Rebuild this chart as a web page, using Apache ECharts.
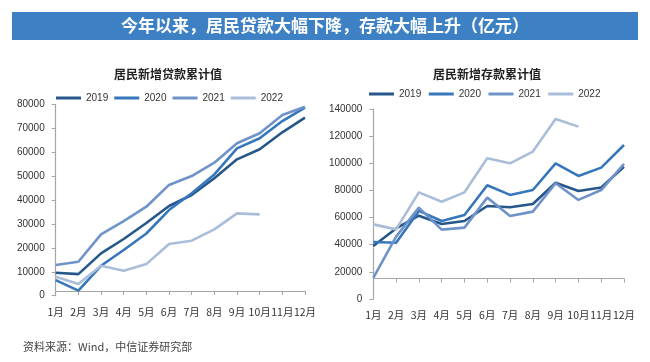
<!DOCTYPE html>
<html>
<head>
<meta charset="utf-8">
<script src="https://cdn.jsdelivr.net/npm/echarts@6/dist/echarts.min.js"></script>
<style>html,body{margin:0;padding:0;background:#fff;}#c{width:650px;height:362px;}</style>
</head>
<body>
<div id="c"></div>
<script>
const months = ['1月','2月','3月','4月','5月','6月','7月','8月','9月','10月','11月','12月'];
const years = ['2019','2020','2021','2022'];
const loan2019 = [9600, 9000, 17700, 23700, 30400, 37500, 42100, 49100, 57000, 61200, 68300, 74400];
const loan2020 = [6500, 2100, 12500, 19100, 26000, 35800, 42800, 50700, 61600, 65800, 73000, 78600];
const loan2021 = [12800, 14200, 25600, 31200, 37200, 46300, 50000, 55600, 63700, 67900, 75500, 79000];
const loan2022 = [7900, 4900, 12500, 10400, 13200, 21600, 23000, 27700, 34400, 34000];
const dep2019 = [39000, 52000, 61400, 55300, 57500, 68500, 67600, 70000, 85700, 79600, 82100, 97500];
const dep2020 = [42000, 41500, 64900, 57500, 61900, 83800, 76700, 80300, 100000, 90700, 96800, 113500];
const dep2021 = [15500, 46000, 67300, 51100, 52600, 74700, 61200, 64400, 85300, 73000, 80300, 99500];
const dep2022 = [55000, 51300, 78600, 71700, 78600, 103700, 100000, 108600, 132700, 127000];

const colors = ['#27578a', '#3677bb', '#6f93c9', '#aabdd9'];
const numFont = 'Liberation Sans, Arial, Noto Sans CJK SC, sans-serif';
const cjkFont = 'Noto Sans CJK SC, sans-serif';
const axisGray = '#a6a6a6';

function mkSeries(name, data, xi, yi, ci) {
  return { name: name, type: 'line', data: data, xAxisIndex: xi, yAxisIndex: yi,
    symbol: 'none', smooth: false, lineStyle: { width: 2.6, color: colors[ci] },
    itemStyle: { color: colors[ci] }, emphasis: { disabled: true }, animation: false };
}

function catAxis(gi, onZeroIdx, margin) {
  return { type: 'category', gridIndex: gi, data: months, boundaryGap: false,
    axisLine: { show: true, onZero: true, onZeroAxisIndex: onZeroIdx, lineStyle: { color: axisGray, width: 1.2 } },
    axisTick: { show: true, length: 4, lineStyle: { color: axisGray } },
    axisLabel: { margin: margin, fontSize: 10.5, color: '#333', fontFamily: cjkFont, interval: 0 },
    splitLine: { show: false } };
}
function valAxis(gi, max, interval) {
  return { type: 'value', gridIndex: gi, min: 0, max: max, interval: interval,
    axisLine: { show: true, onZero: false, lineStyle: { color: axisGray, width: 1.2 } },
    axisTick: { show: true, length: 4, lineStyle: { color: axisGray } },
    axisLabel: { margin: 11, fontSize: 10, color: '#333', fontFamily: numFont, formatter: function (v) { return String(v); } },
    splitLine: { show: false } };
}
function hiddenAxis(gi, min, max) {
  return { type: 'value', gridIndex: gi, min: min, max: max, show: false, splitLine: { show: false } };
}
function legend(left, top, gap) {
  return { left: left, top: top, itemWidth: 25, itemHeight: 3, itemGap: gap, icon: 'rect',
    data: years, textStyle: { fontSize: 10, color: '#333', fontFamily: numFont }, selectedMode: false };
}

const chart = echarts.init(document.getElementById('c'));
chart.setOption({
  animation: false,
  backgroundColor: '#fff',
  graphic: [
    { type: 'rect', shape: { x: 12, y: 12, width: 626, height: 28 }, style: { fill: '#3d80c4' } },
    { type: 'text', x: 325, y: 26, style: { text: '今年以来，居民贷款大幅下降，存款大幅上升（亿元）', fill: '#fff',
      font: 'bold 17px Noto Sans CJK SC, sans-serif', align: 'center', verticalAlign: 'middle' } },
    { type: 'text', x: 23, y: 347, style: { text: '资料来源：Wind，中信证券研究部', fill: '#444',
      font: '11px Noto Sans CJK SC, sans-serif', align: 'left', verticalAlign: 'middle' } }
  ],
  title: [
    { text: '居民新增贷款累计值', left: 163, top: 63, textAlign: 'center',
      textStyle: { fontSize: 12, fontWeight: 'bold', color: '#222', fontFamily: cjkFont } },
    { text: '居民新增存款累计值', left: 482, top: 63, textAlign: 'center',
      textStyle: { fontSize: 12, fontWeight: 'bold', color: '#222', fontFamily: cjkFont } }
  ],
  legend: [legend(51, 88, 6), legend(364, 84, 7.5)],
  grid: [
    { left: 55.7, top: 104.3, width: 249.3, height: 191.4 },
    { left: 373.3, top: 109, width: 250.7, height: 190 }
  ],
  xAxis: [catAxis(0, 1, 11), catAxis(1, 3, 11)],
  yAxis: [valAxis(0, 80000, 10000), hiddenAxis(0, -2000, 78000), valAxis(1, 140000, 20000), hiddenAxis(1, -15000, 125000)],
  series: [
    mkSeries('2019', loan2019, 0, 0, 0),
    mkSeries('2020', loan2020, 0, 0, 1),
    mkSeries('2021', loan2021, 0, 0, 2),
    mkSeries('2022', loan2022, 0, 0, 3),
    mkSeries('2019', dep2019, 1, 2, 0),
    mkSeries('2020', dep2020, 1, 2, 1),
    mkSeries('2021', dep2021, 1, 2, 2),
    mkSeries('2022', dep2022, 1, 2, 3)
  ]
});
</script>
</body>
</html>
